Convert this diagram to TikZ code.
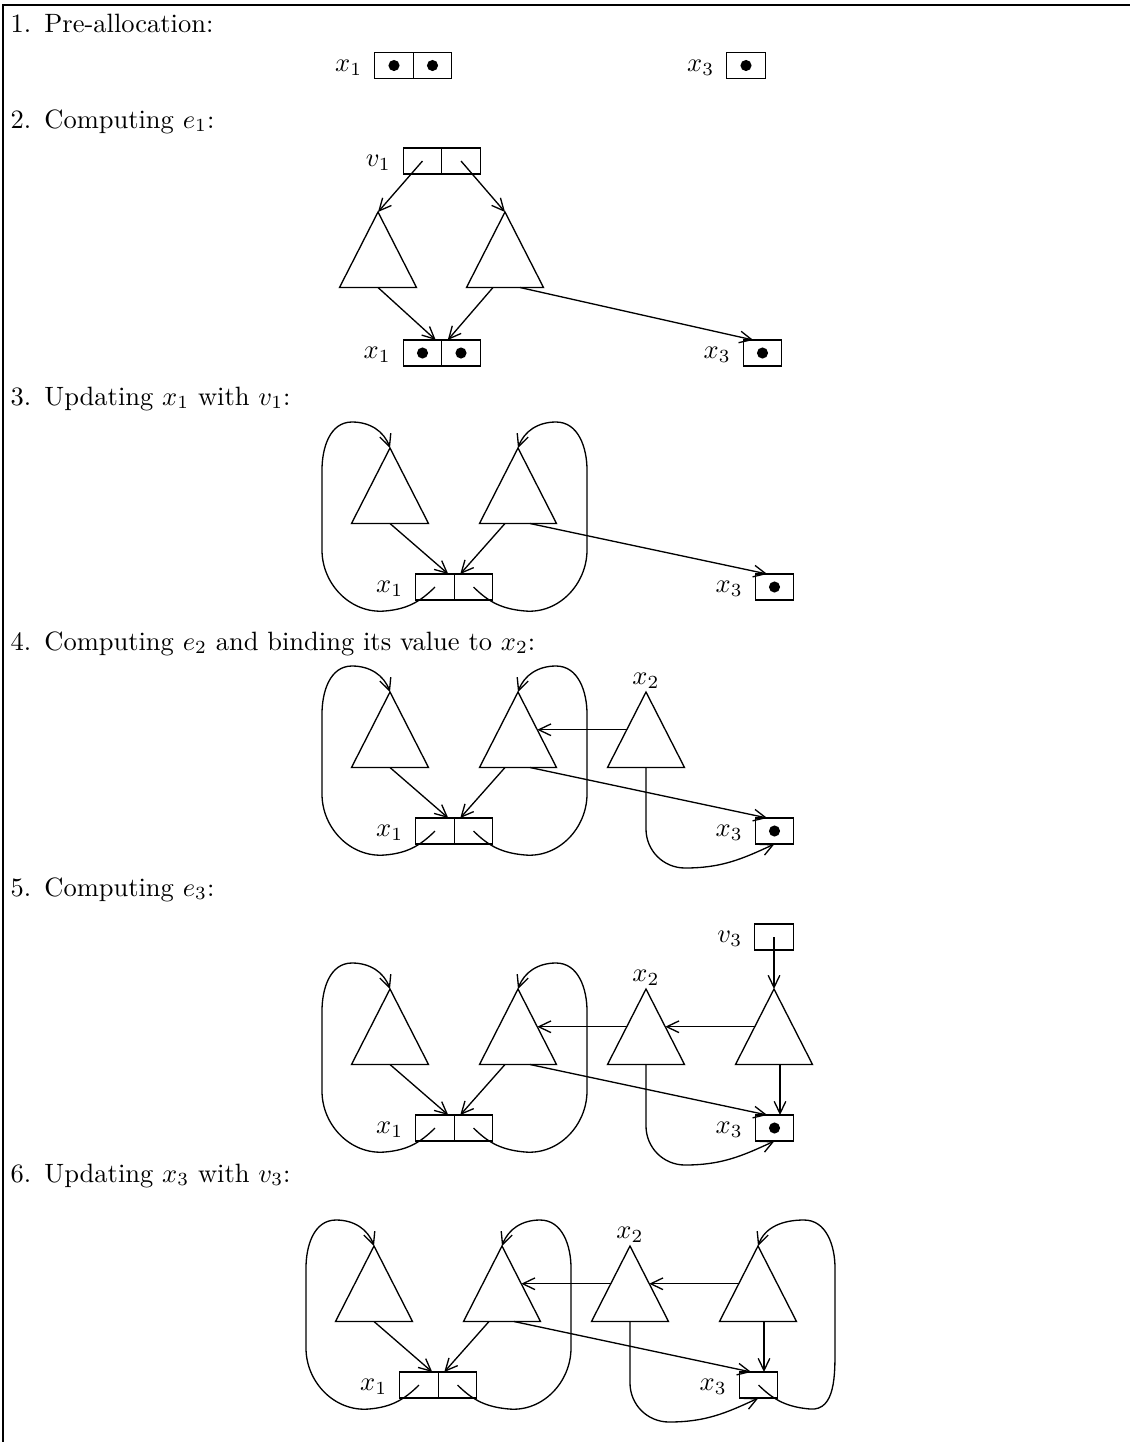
\documentclass[tikz,border=0pt]{standalone}
\usetikzlibrary{arrows.meta,calc}
\newcommand\pxl{0.37736pt}
% triangle: name, apex x, apex y
\newcommand\mytri[3]{%
  \coordinate (#1a) at (#2,#3);
  \coordinate (#1l) at (#2-38.5,#3+75.5);
  \coordinate (#1r) at (#2+38.5,#3+75.5);
  \coordinate (#1b) at (#2,#3+75.5);
  \coordinate (#1ml) at (#2-19.25,#3+37.75);
  \coordinate (#1mr) at (#2+19.25,#3+37.75);
  \draw[ln] (#1a) -- (#1l) -- (#1r) -- cycle;}
% common part of sections 3-6
\newcommand\commonpart[1]{%
  \mytri{#1L}{390}{448}
  \mytri{#1R}{518}{448}
  \node[cell] (#1c1) at (435,587) {};
  \node[cell] (#1c2) at (473.5,587) {};
  \node[lab] (#1lx1) at (#1c1.west) {$x_1$};
  \node[cell] (#1x3) at (774.5,587) {};
  \node[lab] (#1lx3) at (#1x3.west) {$x_3$};
  \draw[arr] (#1Lb) -- ([xshift=-6*\pxl]#1c1.north east);
  \draw[arr] ([xshift=-13*\pxl]#1Rb) -- ([xshift=6*\pxl]#1c2.north west);
  \draw[arr] ([xshift=12*\pxl]#1Rb) -- ([xshift=12*\pxl]#1x3.north west);
  \draw[arr] (#1c1.center) to[out=-135,in=5] (385,611) to[out=185,in=-90] (322,550)
     -- (322,470) to[out=90,in=180] (352,422) to[out=0,in=110] (#1La);
  \draw[arr] (#1c2.center) to[out=-45,in=175] (525,611) to[out=-5,in=-90] (587,550)
     -- (587,470) to[out=90,in=0] (556,422) to[out=180,in=70] (#1Ra);
}
\begin{document}
\begin{tikzpicture}[x=0.37736pt,y=-0.37736pt,
  ln/.style={line width=0.5pt},
  arr/.style={line width=0.5pt,-{Straight Barb[length=4.6pt,width=4.4pt]}},
  cell/.style={draw,line width=0.5pt,minimum width=14.53pt,minimum height=9.8pt,inner sep=0pt,outer sep=0pt},
  lab/.style={inner sep=0pt,anchor=mid east,xshift=-4.53pt},
  head/.style={inner sep=0pt,anchor=base west},
  toplab/.style={inner sep=0pt,anchor=base,yshift=3pt},
  dotr/.style={radius=2.1pt}]
\useasboundingbox (0,0) rectangle (1130,1442);
\draw[line width=1pt] (3,1442) -- (3,5) -- (1130,5);

% headers
\node[head] (h1) at (10,32) {1.\hspace{5pt}Pre-allocation:};
\node[head] (h2) at (10,128) {2.\hspace{5pt}Computing $e_1$:};
\node[head] (h3) at (10,405) {3.\hspace{5pt}Updating $x_1$ with $v_1$:};
\node[head] (h4) at (10,650) {4.\hspace{5pt}Computing $e_2$ and binding its value to $x_2$:};
\node[head] (h5) at (10,896) {5.\hspace{5pt}Computing $e_3$:};
\node[head] (h6) at (10,1182) {6.\hspace{5pt}Updating $x_3$ with $v_3$:};

% section 1
\node[cell] (Pa) at (394,65.5) {};
\node[cell] (Pb) at (432.5,65.5) {};
\node[lab] (Plx1) at (Pa.west) {$x_1$};
\node[cell] (Px3) at (746,65.5) {};
\node[lab] (Plx3) at (Px3.west) {$x_3$};
\fill[dotr] (Pa.center) circle;
\fill[dotr] (Pb.center) circle;
\fill[dotr] (Px3.center) circle;

% section 2
\node[cell] (Ev1) at (422.5,161) {};
\node[cell] (Ev2) at (461,161) {};
\node[lab] (Elv1) at (Ev1.west) {$v_1$};
\mytri{EL}{378}{212}
\mytri{ER}{505}{212}
\node[cell] (Ex1) at (422.5,353) {};
\node[cell] (Ex2) at (461,353) {};
\node[lab] (Elx1) at (Ex1.west) {$x_1$};
\node[cell] (Ex3) at (762.5,353) {};
\node[lab] (Elx3) at (Ex3.west) {$x_3$};
\fill[dotr] (Ex1.center) circle;
\fill[dotr] (Ex2.center) circle;
\fill[dotr] (Ex3.center) circle;
\draw[arr] (Ev1.center) -- (ELa);
\draw[arr] (Ev2.center) -- (ERa);
\draw[arr] (ELb) -- ([xshift=-6*\pxl]Ex1.north east);
\draw[arr] ([xshift=-12*\pxl]ERb) -- ([xshift=6*\pxl]Ex2.north west);
\draw[arr] ([xshift=15*\pxl]ERb) -- ([xshift=10*\pxl]Ex3.north west);

% section 3
\begin{scope}
\commonpart{A}
\fill[dotr] (Ax3.center) circle;
\end{scope}

% section 4
\begin{scope}[shift={(0,244)}]
\commonpart{B}
\mytri{BX}{646}{448}
\node[toplab] (Blx2) at (BXa) {$x_2$};
\draw[arr] (BXml) -- (BRmr);
\draw[arr] (BXb) -- (646,585) to[out=-90,in=180] (685,624) to[out=0,in=-155] (Bx3.south);
\fill[dotr] (Bx3.center) circle;
\end{scope}

% section 5
\begin{scope}[shift={(0,541)}]
\commonpart{C}
\mytri{CX}{646}{448}
\mytri{CV}{774}{448}
\node[toplab] (Clx2) at (CXa) {$x_2$};
\node[cell] (Cv) at (774,396) {};
\node[lab] (Clv3) at (Cv.west) {$v_3$};
\draw[arr] (Cv.center) -- (CVa);
\draw[arr] (CVml) -- (CXmr);
\draw[arr] (CXml) -- (CRmr);
\draw[arr] ([xshift=6*\pxl]CVb) -- ([xshift=6*\pxl]CVb |- Cx3.north);
\draw[arr] (CXb) -- (646,585) to[out=-90,in=180] (685,624) to[out=0,in=-155] (Cx3.south);
\fill[dotr] (Cx3.center) circle;
\end{scope}

% section 6
\begin{scope}[shift={(-16,798)}]
\commonpart{D}
\mytri{DX}{646}{448}
\mytri{DV}{774}{448}
\node[toplab] (Dlx2) at (DXa) {$x_2$};
\draw[arr] (DVml) -- (DXmr);
\draw[arr] (DXml) -- (DRmr);
\draw[arr] ([xshift=6*\pxl]DVb) -- ([xshift=6*\pxl]DVb |- Dx3.north);
\draw[arr] (DXb) -- (646,585) to[out=-90,in=180] (685,624) to[out=0,in=-155] (Dx3.south);
\draw[arr] (Dx3.center) to[out=-45,in=175] (826,611) to[out=-5,in=-90] (851,550)
   -- (851,470) to[out=90,in=0] (820,422) to[out=180,in=70] (DVa);
\end{scope}
\end{tikzpicture}
\end{document}
